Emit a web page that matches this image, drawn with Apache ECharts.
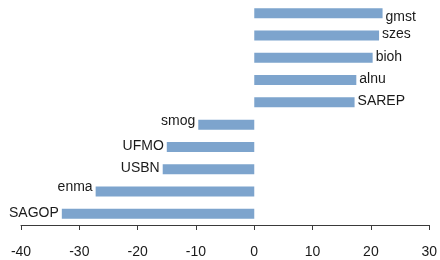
<!DOCTYPE html>
<html>
<head>
<meta charset="utf-8">
<script src="https://cdn.jsdelivr.net/npm/echarts@6/dist/echarts.min.js"></script>
<style>
  html, body { margin: 0; padding: 0; background: #fff; }
  #chart { width: 440px; height: 260px; }
</style>
</head>
<body>
<div id="chart"></div>
<script>
const categories = ['gmst', 'szes', 'bioh', 'alnu', 'SAREP', 'smog', 'UFMO', 'USBN', 'enma', 'SAGOP']
const values = [22.0, 21.4, 20.3, 17.5, 17.2, -9.6, -15.0, -15.7, -27.2, -33.0]

// small vertical nudges on some labels, as in the original
const labelNudge = { gmst: 5, smog: -3, enma: -3 }

const chart = echarts.init(document.getElementById('chart'), null, { renderer: 'canvas' })

chart.setOption({
  animation: false,
  grid: { left: 21, right: 7, top: 2, bottom: 35 },
  xAxis: {
    type: 'value',
    min: -40,
    max: 30,
    interval: 10,
    splitLine: { show: false },
    axisLine: { show: true, onZero: false, lineStyle: { color: '#3a3a3a', width: 1 } },
    axisTick: { show: true, length: 5, lineStyle: { color: '#3a3a3a' } },
    axisLabel: { color: '#1a1a1a', fontSize: 14, fontFamily: 'Liberation Sans, Arial', margin: 20 }
  },
  yAxis: {
    type: 'category',
    data: categories,
    inverse: true,
    show: false
  },
  series: [{
    type: 'bar',
    barWidth: 10,
    itemStyle: { color: '#7da4cd' },
    data: values.map((v, i) => ({
      value: v,
      label: {
        show: true,
        position: v >= 0 ? 'right' : 'left',
        distance: 3,
        offset: [0, (labelNudge[categories[i]] || 0) - 1],
        formatter: categories[i],
        color: '#1a1a1a',
        fontSize: 14,
        fontFamily: 'Liberation Sans, Arial'
      }
    }))
  }]
})
</script>
</body>
</html>
